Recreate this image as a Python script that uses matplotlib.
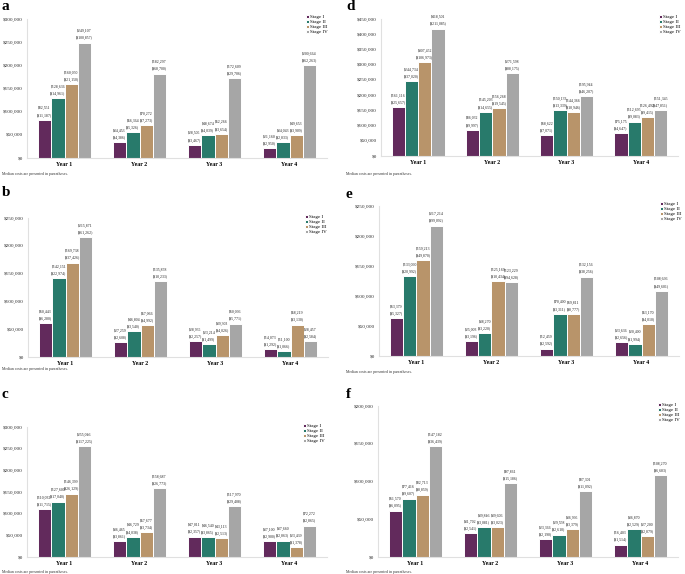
import matplotlib
matplotlib.use("Agg")
import matplotlib.pyplot as plt
import numpy as np
from matplotlib.ticker import FuncFormatter, MultipleLocator

plt.rcParams['font.family'] = ['Liberation Serif', 'DejaVu Serif']

years = ["Year 1", "Year 2", "Year 3", "Year 4"]
stages = ["Stage I", "Stage II", "Stage III", "Stage IV"]
colors = ["#622A5C", "#287A6B", "#B8946A", "#A6A6A6"]

# rows = years, columns = stages
a_mean = [[82551, 128636, 160050, 249107], [34453, 56364, 70272, 182297],
          [28505, 48674, 52266, 172609], [21160, 34043, 49653, 200664]]
a_median = [[11187, 14961, 21150, 100857], [4386, 5326, 7273, 68700],
            [3467, 4039, 3654, 29706], [2950, 2833, 3909, 62263]]

b_mean = [[60443, 142151, 169738, 215871], [27259, 46804, 57066, 135878],
          [28935, 23214, 39303, 60096], [14073, 11100, 58219, 28457]]
b_median = [[6280, 22974, 37426, 61262], [2608, 3540, 4992, 10233],
            [2257, 1499, 4026, 5771], [1292, 1066, 3130, 2584]]

c_mean = [[110032, 127600, 146399, 255046], [36465, 46729, 57677, 158687],
          [47011, 46540, 43113, 117970], [37100, 37660, 23439, 72272]]
c_median = [[11715, 17040, 26129, 117225], [3861, 4038, 3734, 26773],
            [2357, 3865, 2513, 29408], [2900, 2863, 1378, 2865]]

d_mean = [[161116, 244734, 307452, 418501], [86032, 145203, 156268, 271598],
          [68622, 150133, 144366, 195944], [75175, 112695, 126492, 151345]]
d_median = [[25657, 37020, 106973, 211085], [9997, 14655, 19545, 88175],
            [7071, 13339, 10946, 46207], [4647, 9083, 9415, 47851]]

e_mean = [[63379, 133060, 159213, 217214], [25003, 38270, 125169, 123229],
          [12459, 70400, 69811, 132156], [23636, 20400, 53170, 108696]]
e_median = [[5327, 20992, 49870, 99092], [3196, 3220, 10434, 94628],
            [2592, 3311, 8777, 38256], [2656, 1994, 4010, 49601]]

f_mean = [[61570, 77416, 82713, 147182], [31702, 39846, 39606, 97861],
          [23366, 29558, 36995, 87301], [16403, 36870, 27200, 108270]]
f_median = [[6095, 9607, 8859, 36439], [2541, 3081, 3023, 15186],
            [2190, 2610, 3379, 11092], [1514, 2529, 2879, 6683]]

footnote = "Median costs are presented in parentheses."

W, H = 685, 574
fig = plt.figure(figsize=(W / 100, H / 100), dpi=100)

# panel: (letter, mean, median, ymax, step, left_px, top_px, bottom_px, width_px, letter_xy, foot_y, legend_xy)
panels = [
    ("a", a_mean, a_median, 300000, 50000, 27, 19, 158, 300, (2, 7), 174, (306, 15)),
    ("b", b_mean, b_median, 250000, 50000, 28, 218, 357, 300, (2, 193), 369, (305, 215)),
    ("c", c_mean, c_median, 300000, 50000, 27, 427, 557, 300, (2, 394), 572, (303, 424)),
    ("d", d_mean, d_median, 450000, 50000, 381, 19, 156, 297, (346, 7), 174, (659, 15)),
    ("e", e_mean, e_median, 250000, 50000, 379, 206, 356, 300, (346, 195), 372, (660, 202)),
    ("f", f_mean, f_median, 200000, 50000, 378, 406, 557, 300, (346, 394), 572, (658, 403)),
]

fmt = FuncFormatter(lambda v, p: "${:,.0f}".format(v))
x = np.arange(len(years))
bw = 0.178

for (letter, mean, med, ymax, step, lp, tp, bp, wp, lxy, fy, legxy) in panels:
    ax = fig.add_axes([lp / W, (H - bp) / H, wp / W, (bp - tp) / H])
    mean_arr = np.array(mean)
    med_arr = np.array(med)
    for s in range(4):
        xs = x + (s - 1.5) * bw
        ax.bar(xs, mean_arr[:, s], width=bw, color=colors[s],
               edgecolor="white", linewidth=0.7, label=stages[s])
        for xi, m, md in zip(xs, mean_arr[:, s], med_arr[:, s]):
            ax.annotate("${:,}\n(${:,})".format(int(m), int(md)), (xi, m),
                        xytext=(0, 1.6), textcoords="offset points",
                        ha="center", va="bottom", fontsize=2.8, linespacing=2.0,
                        color="#222222")
    ax.set_xlim(-0.5, 3.5)
    ax.set_ylim(0, ymax)
    ax.yaxis.set_major_locator(MultipleLocator(step))
    ax.yaxis.set_major_formatter(fmt)
    ax.set_xticks(x)
    ax.set_xticklabels(years, fontsize=4.2, fontweight="bold")
    ax.tick_params(axis="both", length=0, pad=3)
    ax.tick_params(axis="y", labelsize=3.8, colors="#333333")
    for sp in ["top", "right"]:
        ax.spines[sp].set_visible(False)
    for sp in ["left", "bottom"]:
        ax.spines[sp].set_color("#E0E0E0")
        ax.spines[sp].set_linewidth(0.8)
    leg_x = (legxy[0] - lp) / wp
    leg_y = (bp - legxy[1]) / (bp - tp)
    ax.legend(loc="upper left", bbox_to_anchor=(leg_x, leg_y), frameon=False,
              fontsize=3.6, handlelength=0.55, handleheight=0.55,
              handletextpad=0.3, labelspacing=0.15, borderpad=0, borderaxespad=0)
    fig.text(lxy[0] / W, 1 - lxy[1] / H, letter, fontsize=11, fontweight="bold",
             ha="left", va="center")
    fig.text(lxy[0] / W, 1 - fy / H, footnote, fontsize=2.8, ha="left",
             va="center", color="#333333")

fig.savefig("out.png", dpi=100)
